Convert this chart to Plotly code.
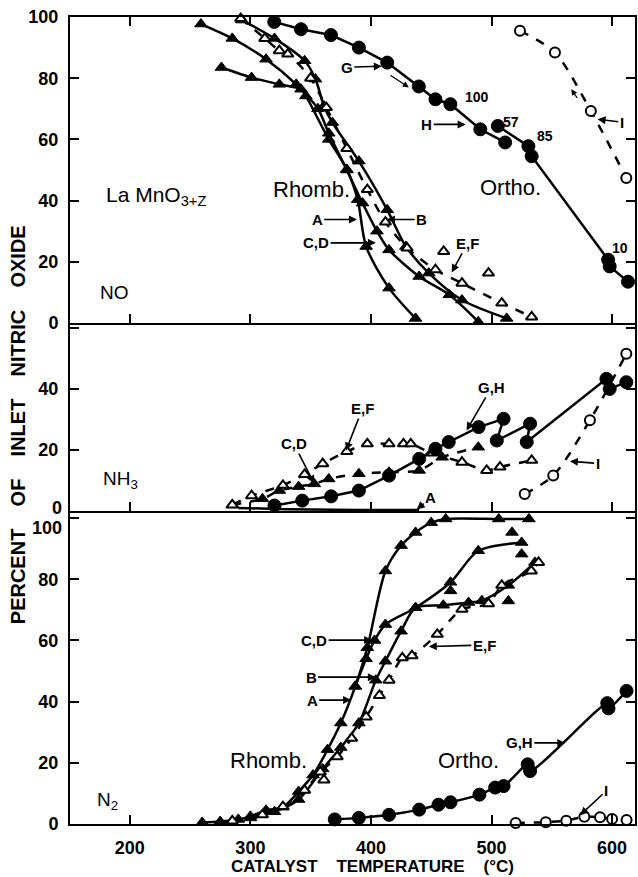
import plotly.graph_objects as go

FONT = "Liberation Sans"

# ---------------- data (catalyst temperature in °C, percent of inlet NO) ----------------
# Top panel: NO remaining
no_A_T = [276, 301, 324, 342, 346, 365, 380, 389, 396, 415, 437]
no_A_v = [83.5, 80.2, 78, 76.4, 74.2, 60, 50.2, 40.3, 25, 11.4, 1.5]
no_CD_T = [259, 285, 313, 338, 356, 365, 380, 393, 405, 415, 440, 465, 489]
no_CD_v = [97.7, 93, 86.2, 78, 70, 62, 50, 39.2, 30, 23.9, 15.2, 9.2, 0.4]
no_B_T = [293, 320, 345, 354, 361, 368, 390, 413.5, 429, 448, 475.5, 512.6]
no_B_v = [99, 93, 85.7, 79.7, 70.9, 65.5, 52.9, 37, 25, 16.3, 7.5, 1.5]
no_EF_T = [292, 312, 324, 331, 350, 363, 380, 397, 412, 430, 453.5, 475.5, 508.5, 533.3]
no_EF_v = [99.5, 93, 89, 87.9, 80, 70.4, 57, 43.6, 33, 24.5, 17.4, 13, 6.5, 2]
no_EFx_T = [460.3, 497.5]
no_EFx_v = [23.4, 16.3]
no_G_T = [319.8, 342, 366.8, 390, 413.5, 439.7, 453.5, 465.9, 490.7, 511.3]
no_G_v = [98.4, 96, 94.1, 90, 85.1, 77.3, 73.1, 71.5, 63.3, 59]
no_H_T = [505.2, 530.6, 533.3, 596.7, 598, 613.2]
no_H_v = [64.4, 57.8, 54.5, 20.7, 18.5, 13.5]
no_I_T = [523.6, 552.6, 582.4, 611.8]
no_I_v = [95.5, 88.4, 69.3, 47.4]

# Middle panel: NH3 formed
nh_A_T = [290, 330, 370, 410, 440]
nh_A_v = [1, 0.6, 0.4, 0.3, 0.3]
nh_CD_T = [285, 310, 324, 340, 353, 365, 390, 415, 440, 459, 489]
nh_CD_v = [2, 4, 6.7, 8, 8.9, 10.5, 12.2, 12.7, 13.3, 17.6, 20.9]
nh_EF_T = [285, 301, 327, 345, 360, 380, 397, 415, 427, 433, 450, 475.5, 496, 507, 533.3]
nh_EF_v = [2, 5, 8.4, 12, 15.5, 19.5, 22, 22, 22, 22, 19, 16, 13.3, 14.4, 16.6]
nh_GH_T = [320, 343, 367, 390, 415, 440, 453.5, 464.5, 489.3, 510, 504.4, 532, 529.2, 595.3, 598, 611.8]
nh_GH_v = [1.8, 3.4, 4.8, 6.7, 11.6, 17.1, 20.4, 22.6, 27.5, 30.2, 23.1, 28.6, 22.6, 43.3, 40, 42.2]
nh_I_T = [527.5, 551.2, 581.6, 611.8]
nh_I_v = [5.6, 11.6, 29.7, 51.5]

# Bottom panel: N2 formed
n2_A_T = [260, 275, 290, 300, 313, 327, 340, 352, 364, 375, 387, 397, 412, 425, 437, 450, 462, 506, 531]
n2_A_v = [0.5, 0.8, 1.5, 2.5, 4.5, 5.5, 10.6, 16, 24.3, 33, 45, 57.6, 82.7, 91, 95.3, 98.5, 99.7, 99.7, 99.7]
n2_CD_T = [387, 396, 403, 412, 437, 466, 489, 525]
n2_CD_v = [45, 54, 60, 65.2, 70.7, 79, 89.3, 92]
n2_B_T = [300, 320, 340, 360, 375, 390, 404, 412, 425, 437, 460, 481, 492, 514, 536]
n2_B_v = [2, 4, 8, 18, 25, 33, 47, 53.2, 63, 70.7, 71.5, 72.4, 73, 78, 85.5]
n2_Bx_T = [466, 514, 517, 525]
n2_Bx_v = [76.2, 72.9, 95.3, 88.2]
n2_EF_T = [285, 310, 327, 345, 358, 372, 384, 396, 407, 415, 426, 434, 455, 475.5, 497.5, 508.5, 533, 539]
n2_EF_v = [1, 3, 5.7, 11, 17, 22, 28, 35, 42, 47, 54.3, 55, 62, 70.2, 72, 78, 82.7, 85.5]
n2_EFx_T = [361]
n2_EFx_v = [14.4]
n2_GH_T = [370, 390, 415, 440, 456, 466, 490, 503, 510, 530, 532, 596, 597, 612]
n2_GH_v = [1.5, 2, 3, 4.7, 6.3, 7.1, 9.6, 11.9, 12.4, 19.5, 17.3, 39.5, 37.8, 43.5]
n2_I_T = [520, 545, 562, 577, 590, 600, 612]
n2_I_v = [0.3, 0.6, 1.1, 2.4, 2.2, 1.6, 1.3]

x_ticks = [200, 300, 400, 500, 600]

# ---------------- figure ----------------
fig = go.Figure()

MK = {
    "tri": dict(symbol="triangle-up", size=11, color="black", line=dict(color="black", width=1)),
    "otri": dict(symbol="triangle-up", size=10, color="white", line=dict(color="black", width=2)),
    "circ": dict(symbol="circle", size=13, color="black", line=dict(color="black", width=1)),
    "ocirc": dict(symbol="circle", size=10, color="white", line=dict(color="black", width=2)),
}


def add(p, T, v, mk, dash="solid", shape="spline", mode="lines+markers", width=2.5):
    xa = "x" if p == 1 else f"x{p}"
    ya = "y" if p == 1 else f"y{p}"
    fig.add_trace(go.Scatter(
        x=T, y=v, xaxis=xa, yaxis=ya, mode=mode,
        line=dict(color="black", width=width, dash=dash, shape=shape, smoothing=0.8),
        marker=MK[mk] if mk else None, cliponaxis=False, showlegend=False,
        hoverinfo="skip"))


# top (p=3)
add(3, no_A_T, no_A_v, "tri")
add(3, no_CD_T, no_CD_v, "tri")
add(3, no_B_T, no_B_v, "tri")
add(3, no_EF_T, no_EF_v, "otri", dash="dash")
add(3, no_EFx_T, no_EFx_v, "otri", mode="markers")
add(3, no_G_T, no_G_v, "circ", shape="linear")
add(3, no_H_T, no_H_v, "circ", shape="linear")
add(3, no_I_T, no_I_v, "ocirc", dash="dash")
# middle (p=2)
add(2, nh_A_T, nh_A_v, None, mode="lines")
add(2, nh_CD_T, nh_CD_v, "tri", dash="dash")
add(2, nh_EF_T, nh_EF_v, "otri", dash="dash")
add(2, nh_GH_T, nh_GH_v, "circ", shape="linear")
add(2, nh_I_T, nh_I_v, "ocirc", dash="dash")
# bottom (p=1)
add(1, n2_A_T, n2_A_v, "tri")
add(1, n2_CD_T, n2_CD_v, "tri")
add(1, n2_B_T, n2_B_v, "tri")
add(1, n2_Bx_T, n2_Bx_v, "tri", mode="markers")
add(1, n2_EF_T, n2_EF_v, "otri", dash="dash")
add(1, n2_EFx_T, n2_EFx_v, "otri", mode="markers")
add(1, n2_GH_T, n2_GH_v, "circ", shape="spline")
add(1, n2_I_T, n2_I_v, "ocirc", dash="dash")

# ---------------- annotations ----------------
anns = []


def refs(p):
    return ("x" if p == 1 else f"x{p}"), ("y" if p == 1 else f"y{p}")


def label(text, x, y, p, size=15, bold=True, xanchor="center"):
    xr, yr = refs(p)
    anns.append(dict(text=text, x=x, y=y, xref=xr, yref=yr, showarrow=False,
                     xanchor=xanchor, yanchor="middle",
                     font=dict(family=FONT, size=size, color="black",
                               weight="bold" if bold else "normal")))


def arrow(text, tx, ty, hx, hy, p, size=15, width=1.6):
    xr, yr = refs(p)
    anns.append(dict(text=text, x=hx, y=hy, ax=tx, ay=ty, xref=xr, yref=yr,
                     axref=xr, ayref=yr, showarrow=True, arrowhead=2, arrowsize=1,
                     arrowwidth=width, arrowcolor="black",
                     font=dict(family=FONT, size=size, color="black", weight="bold")))


def darrow(tx, ty, hx, hy, p):
    # small direction arrow drawn as a short line with a head
    xr, yr = refs(p)
    anns.append(dict(text="", x=hx, y=hy, ax=tx, ay=ty, xref=xr, yref=yr,
                     axref=xr, ayref=yr, showarrow=True, arrowhead=2, arrowsize=1,
                     arrowwidth=1.2, arrowcolor="black"))


# top
label("La MnO<sub>3+Z</sub>", 222, 41.5, 3, size=21, bold=False)
label("NO", 187, 10, 3, size=19, bold=False)
label("Rhomb.", 350.4, 43.6, 3, size=22, bold=False)
label("Ortho.", 515.7, 44.3, 3, size=22, bold=False)
arrow("G", 380, 83.6, 409, 83.9, 3)
label("100", 488, 73.8, 3, size=14)
arrow("H", 446.3, 64.9, 478.5, 64.9, 3)
label("57", 516.5, 65.6, 3, size=14)
label("85", 544.6, 61, 3, size=14)
label("10", 606.6, 24.6, 3, size=14)
arrow("I", 608, 65.6, 588, 66.6, 3)
arrow("A", 355.4, 33.8, 388.4, 33.8, 3)
arrow("B", 442.1, 33.8, 413.2, 33.8, 3)
arrow("C,D", 354.5, 26.2, 404.1, 26.2, 3)
arrow("E,F", 480, 26, 467, 16.5, 3)
darrow(414.9, 81.3, 431.4, 77, 3)
darrow(571.9, 73.1, 566.1, 76.4, 3)
# middle
label("NH<sub>3</sub>", 192.6, 10, 2, size=19, bold=False)
arrow("E,F", 393, 33.6, 379.3, 19.8, 2)
arrow("C,D", 336, 22.1, 352.9, 9, 2)
arrow("G,H", 500, 40.5, 479.3, 26.4, 2)
arrow("A", 449.6, 4.4, 438, 0.5, 2)
arrow("I", 588, 15.6, 565, 16.3, 2)
# bottom
label("N<sub>2</sub>", 181.8, 7.5, 1, size=19, bold=False)
label("Rhomb.", 314.9, 20.9, 1, size=22, bold=False)
label("Ortho.", 481, 20.9, 1, size=22, bold=False)
arrow("C,D", 352.9, 60.1, 401, 60.1, 1)
arrow("B", 350.4, 48, 404.1, 48, 1)
arrow("A", 351.2, 40.5, 383.5, 40.5, 1)
arrow("E,F", 494, 58.5, 448, 58, 1)
arrow("G,H", 523.1, 26.5, 561.2, 26.5, 1)
arrow("I", 595, 10.8, 573.6, 2.9, 1)

tickfont = dict(family=FONT, size=18, color="black", weight="bold")
# the two labels where the NH3 and N2 scales meet sit slightly apart, as in the original
anns.append(dict(text="100", xref="paper", yref="y", x=0, y=100, xanchor="right",
                 yanchor="middle", xshift=-6, yshift=-10, showarrow=False, font=tickfont))
anns.append(dict(text="0", xref="paper", yref="y2", x=0, y=0, xanchor="right",
                 yanchor="middle", xshift=-6, yshift=3, showarrow=False, font=tickfont))

NB = "\u00a0"
anns.append(dict(text=f"CATALYST{NB*4}TEMPERATURE{NB*4}(°C)", xref="paper", yref="paper",
                 x=0.536, y=0, yanchor="top", yshift=-31, showarrow=False,
                 font=dict(family=FONT, size=17, color="black", weight="bold")))
anns.append(dict(text=f"PERCENT{NB*4}OF{NB*4}INLET{NB*4}NITRIC{NB*4}OXIDE", xref="paper",
                 yref="paper", x=-0.0917, y=0.4944, textangle=-90, showarrow=False,
                 xanchor="center", yanchor="middle",
                 font=dict(family=FONT, size=20, color="black", weight="bold")))

# ---------------- axes ----------------
common = dict(showline=True, linewidth=2, linecolor="black", ticks="inside", ticklen=9,
              tickwidth=2, tickcolor="black", showgrid=False, zeroline=False,
              tickfont=tickfont, ticklabeloverflow="allow")

d1, d2 = 0.38786, 0.62082
fig.update_layout(
    width=638, height=877,
    margin=dict(l=70, r=1, t=17, b=53),
    paper_bgcolor="white", plot_bgcolor="white",
    showlegend=False,
    font=dict(family=FONT, color="black"),
    xaxis=dict(common, range=[150.4, 619], tickvals=x_ticks, anchor="y", ticklabelstandoff=6),
    xaxis2=dict(common, range=[150.4, 619], tickvals=x_ticks, anchor="y2", matches="x",
                showticklabels=False),
    xaxis3=dict(common, range=[150.4, 619], tickvals=x_ticks, anchor="y3", matches="x",
                showticklabels=False, mirror="ticks"),
    yaxis=dict(common, domain=[0, d1], range=[0, 102.3], tickvals=[0, 20, 40, 60, 80, 100],
               ticktext=["0", "20", "40", "60", "80", ""],
               anchor="x", mirror="ticks", ticklabelstandoff=6),
    yaxis2=dict(common, domain=[d1, d2], range=[0, 61.6], tickvals=[0, 20, 40, 60],
                ticktext=["", "20", "40", ""], anchor="x2", mirror="ticks",
                ticklabelstandoff=6),
    yaxis3=dict(common, domain=[d2, 1], range=[0, 100], tickvals=[0, 20, 40, 60, 80, 100],
                anchor="x3", mirror="ticks", ticklabelstandoff=6),
    annotations=anns,
)

# the page's default 8px body margin would push the chart off the window edge
fig.write_html("out.html",
               config={"displayModeBar": False},
               post_script="document.body.style.margin='0px';"
                           "document.documentElement.style.overflow='hidden';")
